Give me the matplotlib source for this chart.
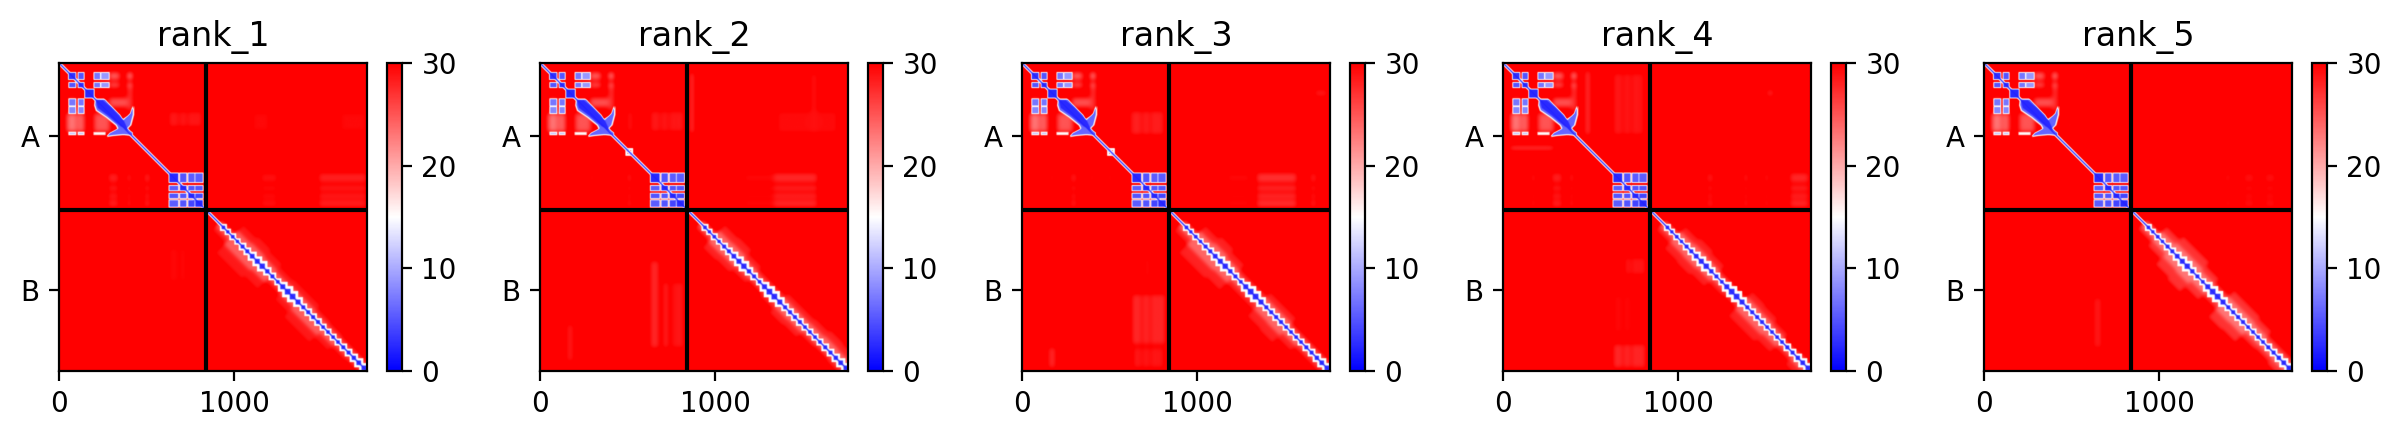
import numpy as np
import matplotlib
matplotlib.use("Agg")
import matplotlib.pyplot as plt
from matplotlib.path import Path

# ---- data (residue coordinates) ----
TITLES = ["rank_1", "rank_2", "rank_3", "rank_4", "rank_5"]
CHAIN_LABELS = ["A", "B"]
LEN_A = 836
LEN_ALL = 1755
X_TICKS = [0, 1000]

# N-terminal domain blocks of chain A: (x0, x1, y0, y1, pae)
BLOCKS_N = [
    (55, 95, 55, 93, 3), (110, 142, 55, 93, 5), (200, 235, 55, 93, 7), (240, 285, 55, 93, 9),
    (57, 95, 112, 139, 5), (110, 142, 112, 139, 3), (200, 235, 112, 139, 7), (240, 285, 112, 139, 9),
    (148, 199, 150, 198, 2.5),
    (57, 95, 205, 243, 7), (57, 95, 250, 287, 8), (110, 142, 205, 243, 7), (110, 142, 250, 287, 8),
]
# thin pale-blue row under the N-terminal domain: (x0, x1, y0, y1, pae)
BLOCKS_ROW = [(57, 95, 395, 408, 12), (110, 142, 395, 408, 12), (200, 262, 397, 407, 15)]

# X-shaped core of chain A
ARM_POLY = [(209, 207), (262, 207), (291, 239), (348, 296), (367, 325), (405, 287), (420, 245), (420, 296),
            (405, 353), (386, 372), (420, 397), (418, 410), (367, 405), (310, 410), (272, 416), (291, 397),
            (338, 372), (329, 353), (272, 306), (215, 268), (205, 239)]
CORE_POLY = [(209, 210), (250, 212), (300, 255), (370, 330), (395, 385), (350, 360), (280, 300), (220, 255)]

# C-terminal domain groups of chain A
GROUPS_X = [(628, 680), (689, 727), (736, 773), (776, 820)]
GROUPS_Y = [(628, 680), (699, 727), (743, 771), (781, 820)]
GROUP_PAE = [[2.5, 5, 5.5, 5.5], [5.5, 2.5, 5, 5], [5, 5, 2.5, 4], [5.5, 5, 4, 2.5]]

# pale shading common to every model: (x0, x1, y0, y1, pae)
HALO_COMMON = [
    (285, 345, 55, 93, 24), (285, 345, 112, 139, 25), (390, 418, 55, 93, 22), (390, 418, 112, 139, 23),
    (285, 420, 200, 250, 25), (45, 100, 287, 392, 23), (105, 145, 287, 392, 24), (200, 290, 287, 392, 25),
    (390, 420, 140, 270, 27), (50, 100, 190, 205, 27),
]

# pale shading per model: (x0, x1, y0, y1, pae); stripes are added in the C-domain rows and columns
PALE_1 = [(623, 813, 277, 363, 28.5), (281, 338, 629, 819, 28), (385, 414, 629, 819, 28.5), (486, 519, 629, 819, 28),
          (1150, 1245, 625, 820, 29), (1480, 1750, 625, 820, 28),
          (1100, 1200, 280, 390, 29.5), (1600, 1750, 280, 390, 29.5), (620, 740, 1050, 1250, 29.5),
          (100, 130, 1640, 1700, 29.5)]
PALE_2 = [(493, 530, 275, 390, 29), (626, 816, 275, 390, 28.5), (285, 304, 625, 820, 28.5), (493, 522, 625, 820, 28.5),
          (1157, 1328, 625, 820, 29.5), (1328, 1575, 625, 820, 27.5), (1347, 1689, 275, 398, 29.3), (854, 873, 57, 398, 26),
          (1537, 1575, 60, 400, 29), (1650, 1680, 60, 180, 29.5), (626, 674, 1129, 1622, 27.5),
          (702, 731, 1250, 1622, 27.5), (750, 816, 1250, 1622, 28.5), (152, 190, 1490, 1698, 28.5), (285, 300, 836, 860, 26)]
PALE_3 = [(617, 806, 275, 408, 28), (161, 180, 625, 820, 28.5), (275, 313, 625, 820, 28.5), (389, 408, 625, 820, 28.5),
          (493, 512, 625, 820, 28.5), (1338, 1565, 625, 820, 27), (1167, 1300, 625, 820, 29.5), (1641, 1679, 625, 820, 28.5),
          (1670, 1736, 152, 190, 28.5), (626, 816, 1319, 1603, 27.5), (702, 731, 1110, 1224, 29),
          (152, 190, 1622, 1736, 27.5), (636, 806, 1622, 1736, 28.5)]
PALE_4 = [(469, 497, 47, 408, 27), (630, 800, 60, 408, 28.5), (42, 288, 478, 490, 23), (161, 185, 625, 820, 28.5),
          (279, 336, 625, 820, 28), (380, 402, 625, 820, 28), (1161, 1199, 625, 820, 28.5), (1370, 1398, 625, 820, 28.5),
          (1493, 1512, 625, 820, 28), (1636, 1740, 625, 820, 27.5), (1503, 1541, 152, 190, 28),
          (696, 810, 1110, 1205, 28.5), (630, 810, 1603, 1736, 27.5), (630, 760, 1320, 1540, 29.5)]
PALE_5 = [(480, 500, 330, 372, 28.5), (1370, 1410, 625, 820, 29.3), (1480, 1540, 625, 820, 29), (1600, 1660, 625, 820, 29),
          (622, 670, 1338, 1622, 28.5), (711, 730, 1350, 1470, 29.3), (152, 170, 1640, 1720, 29.3),
          (850, 865, 330, 372, 28.5), (1660, 1690, 150, 190, 29.3)]
PALE = [PALE_1, PALE_2, PALE_3, PALE_4, PALE_5]

# small ring on the chain A diagonal for some models: centre per model (None when absent)
RING_CENTRE = [None, 507, 507, None, None]

# chain B envelope, one value per 75 residues along the diagonal
UPPER_1 = [0, 40, 130, 150, 130, 100, 110, 110, 80, 70, 60, 60, 40]
LOWER_1 = [0, 80, 190, 190, 160, 70, 120, 170, 170, 110, 70, 60, 60]
UPPER_2 = [0, 40, 130, 140, 100, 70, 70, 100, 100, 110, 130, 120, 60]
LOWER_2 = [0, 60, 130, 120, 90, 60, 80, 120, 110, 70, 60, 70, 90]
UPPER_3 = [0, 40, 120, 150, 120, 70, 70, 110, 110, 60, 60, 60, 60]
LOWER_3 = [0, 90, 190, 190, 170, 90, 90, 160, 170, 110, 70, 70, 80]
UPPER_4 = [0, 40, 110, 130, 110, 60, 50, 120, 110, 80, 40, 50, 60]
LOWER_4 = [0, 80, 140, 150, 130, 80, 70, 160, 160, 130, 70, 110, 110]
UPPER_5 = [0, 40, 110, 150, 150, 110, 70, 130, 130, 110, 70, 70, 70]
LOWER_5 = [0, 70, 110, 170, 190, 130, 80, 170, 160, 90, 80, 100, 110]
UPPER = [UPPER_1, UPPER_2, UPPER_3, UPPER_4, UPPER_5]
LOWER = [LOWER_1, LOWER_2, LOWER_3, LOWER_4, LOWER_5]
BAND_OUTER = [28.5, 28, 28, 28, 27]

# blue beads along the chain B diagonal
BEADS = [937, 962, 990, 1017, 1046, 1073, 1101, 1130, 1158, 1187, 1216, 1247, 1275, 1303, 1331, 1362, 1392,
         1420, 1448, 1476, 1505, 1533, 1562, 1590, 1620, 1650, 1680, 1708, 1738]
BEAD_R = [10, 9, 10, 9, 11, 11, 13, 14, 15, 12, 11, 10, 14, 16, 16, 14, 11, 11, 11, 11, 10, 10, 10, 10, 11, 11, 12, 13, 14]

BG = 31.0


def blur(m, sigma):
    r = int(3 * sigma)
    k = np.exp(-0.5 * (np.arange(-r, r + 1) / sigma) ** 2)
    k /= k.sum()
    p = np.pad(m, r, mode="edge")
    p = np.apply_along_axis(lambda a: np.convolve(a, k, mode="valid"), 0, p)
    p = np.apply_along_axis(lambda a: np.convolve(a, k, mode="valid"), 1, p)
    return p


def fill_rect(m, rect):
    x0, x1, y0, y1, v = rect
    m[int(y0):int(y1), int(x0):int(x1)] = v


def fill_poly(m, verts, v):
    ys, xs = np.mgrid[180:440, 180:440]
    inside = Path(verts).contains_points(np.c_[xs.ravel(), ys.ravel()]).reshape(xs.shape)
    m[180:440, 180:440][inside] = v


def rim(rect, pad=4, v=18):
    x0, x1, y0, y1, val = rect
    return (x0 - pad, x1 + pad, y0 - pad, y1 + pad, max(v, val))


IDX = np.arange(LEN_ALL)
II, JJ = np.meshgrid(IDX, IDX)  # II: column x, JJ: row y
DIFF = II - JJ
MEAN = (II + JJ) // 2

# rows and columns of the C-domain gaps get no pale shading
ROW_KEEP = np.zeros(LEN_ALL, dtype=bool)
ROW_KEEP[:625] = True
ROW_KEEP[820:] = True
for gy in GROUPS_Y:
    ROW_KEEP[gy[0]:gy[1]] = True
COL_KEEP = np.zeros(LEN_ALL, dtype=bool)
COL_KEEP[:625] = True
COL_KEEP[820:] = True
for gx in GROUPS_X:
    COL_KEEP[gx[0]:gx[1]] = True


def build(model):
    m = np.full((LEN_ALL, LEN_ALL), BG)
    # pale layer
    for r in HALO_COMMON + PALE[model]:
        fill_rect(m, r)
    m[~ROW_KEEP, :] = BG
    m[:, ~COL_KEEP] = BG
    m = blur(m, 9)
    # chain B envelope
    up = np.array(UPPER[model])
    lo = np.array(LOWER[model])
    both = (II >= LEN_A) & (JJ >= LEN_A)
    bin_i = np.clip((MEAN - LEN_A) // 75, 0, len(up) - 1)
    wid = np.where(DIFF > 0, up[bin_i], lo[bin_i])
    m[both & (np.abs(DIFF) < wid)] = BAND_OUTER[model]
    m[both & (np.abs(DIFF) < 0.5 * wid)] = BAND_OUTER[model] - 4
    m = blur(m, 10)
    # crisp layer: rims, then blocks
    blocks = list(BLOCKS_N) + list(BLOCKS_ROW)
    for iy, gy in enumerate(GROUPS_Y):
        for ix, gx in enumerate(GROUPS_X):
            blocks.append((gx[0], gx[1], gy[0], gy[1], GROUP_PAE[iy][ix]))
    for b in blocks:
        fill_rect(m, rim(b))
    near = np.abs(DIFF) <= 10
    m[near] = np.minimum(m[near], 16)
    for b in blocks:
        fill_rect(m, b)
    fill_poly(m, [(x - 6, y - 6) for x, y in ARM_POLY[:5]] + [(x + 8, y) for x, y in ARM_POLY[5:10]] +
              [(x, y + 6) for x, y in ARM_POLY[10:16]] + [(x - 6, y + 4) for x, y in ARM_POLY[16:]], 17)
    fill_poly(m, ARM_POLY, 6)
    fill_poly(m, CORE_POLY, 2.5)
    # ring
    c = RING_CENTRE[model]
    if c is not None:
        fill_rect(m, (c - 22, c + 22, c - 22, c + 22, 14))
        fill_rect(m, (c - 11, c + 11, c - 11, c + 11, 27))
    # beads: white scalloped halo, then blue core
    for p, r in zip(BEADS, BEAD_R):
        fill_rect(m, (p - 2 * r, p + 2 * r, p - 2 * r, p + 2 * r, 15))
    near = np.abs(DIFF) <= 12
    m[near] = np.minimum(m[near], 13)
    for p, r in zip(BEADS, BEAD_R):
        fill_rect(m, (p - r, p + r, p - r, p + r, 3))
    m[np.abs(DIFF) <= 4] = 2
    return blur(m, 2.5)


W, H = 2401, 438
AX_LEFT = [59, 540, 1022, 1503, 1984]
AX_TOP, AX_SIZE = 63, 308
CB_GAP, CB_W = 328, 15


def rect_px(x, y, w, h):
    return [x / W, 1 - (y + h) / H, w / W, h / H]


fig = plt.figure(figsize=(W / 200, H / 200), dpi=200)
for n, left in enumerate(AX_LEFT):
    ax = fig.add_axes(rect_px(left, AX_TOP, AX_SIZE, AX_SIZE))
    im = ax.imshow(build(n), cmap="bwr", vmin=0, vmax=30, extent=(0, LEN_ALL, LEN_ALL, 0))
    ax.plot([LEN_A, LEN_A], [0, LEN_ALL], color="black")
    ax.plot([0, LEN_ALL], [LEN_A, LEN_A], color="black")
    ax.set_xlim(0, LEN_ALL)
    ax.set_ylim(LEN_ALL, 0)
    ax.set_xticks(X_TICKS)
    ax.set_yticks([LEN_A / 2, (LEN_A + LEN_ALL) / 2], CHAIN_LABELS)
    ax.set_title(TITLES[n], fontsize=12)
    cax = fig.add_axes(rect_px(left + CB_GAP, AX_TOP, CB_W, AX_SIZE))
    fig.colorbar(im, cax=cax)
fig.savefig("out.png", dpi=200)
